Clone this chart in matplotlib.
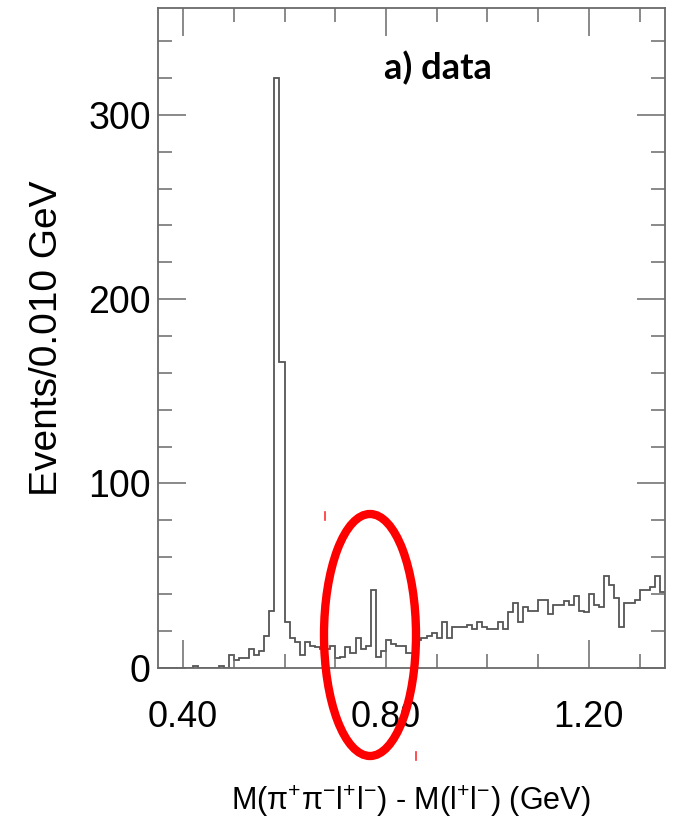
import numpy as np
import matplotlib
matplotlib.use("Agg")
import matplotlib.pyplot as plt
from matplotlib.patches import Ellipse
from matplotlib.lines import Line2D
from matplotlib.ticker import FixedLocator, MultipleLocator
from matplotlib import font_manager

# ---------------- data ----------------
x_start = 0.35
bin_width = 0.010
counts = [
    0, 0, 0, 0, 0, 0, 0, 1, 0, 0,
    0, 0, 1, 0, 7, 4, 5, 5, 10, 7,
    9, 17, 31, 320, 166, 25, 16, 14, 7, 14,
    12, 11, 10, 10, 12, 5, 6, 11, 8, 16,
    10, 12, 42, 6, 9, 15, 13, 12, 12, 8,
    8, 15, 16, 17, 19, 16, 25, 16, 22, 22,
    22, 23, 21, 25, 22, 21, 21, 25, 21, 30,
    35, 25, 33, 31, 31, 37, 37, 29, 34, 34,
    36, 34, 39, 31, 30, 40, 34, 33, 50, 45,
    38, 22, 35, 35, 37, 42, 42, 44, 50, 41,
]
x_major = [0.40, 0.80, 1.20]
x_major_labels = ["0.40", "0.80", "1.20"]
y_major = [0, 100, 200, 300]
y_major_labels = ["0", "100", "200", "300"]
panel_label = "a) data"
x_title = r"M(π$^{+}$π$^{-}$l$^{+}$l$^{-}$) - M(l$^{+}$l$^{-}$) (GeV)"
y_title = "Events/0.010 GeV"

edges = np.round(x_start + bin_width * np.arange(len(counts) + 1), 4)

# ---------------- figure ----------------
W, H = 673, 832
plt.rcParams['font.family'] = ['Liberation Sans', 'DejaVu Sans']
plt.rcParams['mathtext.fontset'] = 'custom'
plt.rcParams['mathtext.rm'] = 'Liberation Sans'
plt.rcParams['mathtext.it'] = 'Liberation Sans:italic'
plt.rcParams['mathtext.bf'] = 'Liberation Sans:bold'

names = {f.name for f in font_manager.fontManager.ttflist}
narrow = 'Liberation Sans Narrow' if 'Liberation Sans Narrow' in names else None

fig = plt.figure(figsize=(W / 100, H / 100), dpi=100)
fig.patch.set_facecolor('white')

def fx(px):
    return px / W

def fy(py):
    return 1 - py / H

ax_l, ax_r, ax_t, ax_b = 157.7, 665.0, 8.0, 667.7
ax = fig.add_axes([fx(ax_l), fy(ax_b), fx(ax_r - ax_l), (ax_b - ax_t) / H])

frame_col = '#6a6a6a'
line_col = '#555555'

ax.stairs(counts, edges, color=line_col, linewidth=1.3)

ax.set_xlim(0.35, 1.35)
ax.set_ylim(0, 358)

for s in ax.spines.values():
    s.set_color(frame_col)
    s.set_linewidth(1.3)

ax.xaxis.set_major_locator(FixedLocator(x_major))
ax.set_xticklabels(x_major_labels)
ax.xaxis.set_minor_locator(MultipleLocator(0.1))
ax.yaxis.set_major_locator(FixedLocator(y_major))
ax.set_yticklabels(y_major_labels)
ax.yaxis.set_minor_locator(MultipleLocator(20))

ax.tick_params(which='both', direction='in', top=True, right=True,
               color=frame_col, width=1.1)
ax.tick_params(which='major', length=20)
ax.tick_params(which='minor', length=10)
ax.tick_params(axis='x', which='major', labelsize=26, pad=23)
ax.tick_params(axis='y', which='major', labelsize=27, pad=5)

# titles
fig.text(fx(47), fy(338), y_title, rotation=90, ha='center', va='center',
         fontsize=28)
if narrow:
    plt.rcParams['mathtext.rm'] = narrow
    plt.rcParams['mathtext.it'] = narrow + ':italic'
    fig.text(fx(411), fy(801), x_title, ha='center', va='center', fontsize=27,
             family=[narrow, 'Liberation Sans'])
else:
    fig.text(fx(411), fy(801), x_title, ha='center', va='center', fontsize=22)

# panel label
fig.text(fx(438), fy(79), panel_label, ha='center', va='baseline',
         fontsize=26, fontweight='bold', family=['Lato', 'DejaVu Sans'])

# red annotation ellipse
ell = Ellipse((fx(370), fy(635)), width=92 / W, height=242 / H,
              transform=fig.transFigure, fill=False, edgecolor='#ff0000',
              linewidth=6)
fig.add_artist(ell)
fig.add_artist(Line2D([fx(325), fx(325)], [fy(512), fy(520)],
                      transform=fig.transFigure, color='#ff3030', lw=1.2))
fig.add_artist(Line2D([fx(416), fx(416)], [fy(752), fy(760)],
                      transform=fig.transFigure, color='#ff3030', lw=1.2))

fig.savefig('out.png', dpi=100, facecolor='white')
